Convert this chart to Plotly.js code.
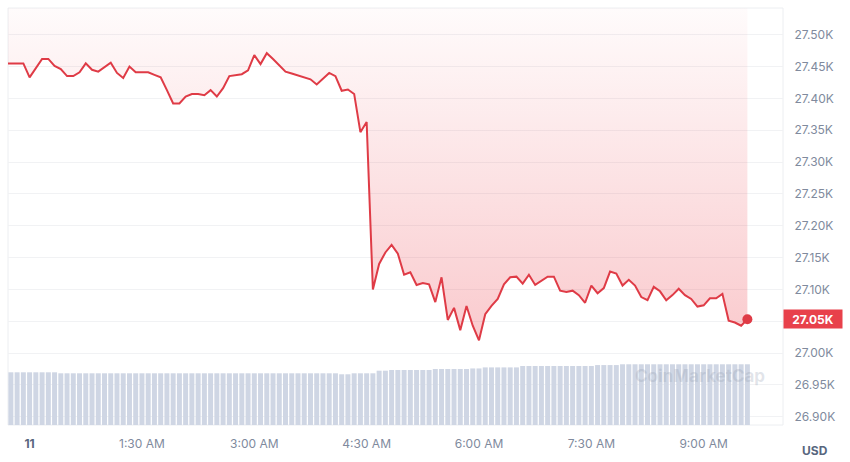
<!DOCTYPE html>
<html>
<head>
<meta charset="utf-8">
<script src="https://cdn.plot.ly/plotly-3.0.1.min.js"></script>
<style>
  html, body { margin: 0; padding: 0; background: #ffffff; }
  #chart { width: 850px; height: 462px; }
</style>
</head>
<body>
<div id="chart"></div>
<script>
// ---- data (5-minute samples, first sample at 23:40 on the 10th) ----
const startTime = '2023-05-10T23:40:00Z';
const stepMinutes = 5;

const priceValues = [
  27455, 27455, 27455, 27455, 27433, 27447, 27462, 27462, 27451, 27446,
  27435, 27435, 27441, 27455, 27445, 27442, 27449, 27456, 27440, 27432,
  27450, 27441, 27441, 27441, 27437, 27433, 27413, 27392, 27392, 27403,
  27407, 27407, 27405, 27413, 27403, 27416, 27435, 27437, 27438, 27444,
  27468, 27454, 27471, 27462, 27452, 27442, 27439, 27436, 27433, 27430,
  27422, 27431, 27440, 27435, 27412, 27414, 27407, 27347, 27363, 27100,
  27140, 27158, 27170, 27156, 27123, 27127, 27107, 27110, 27108, 27080,
  27119, 27052, 27071, 27036, 27074, 27043, 27020, 27061, 27074, 27085,
  27108, 27119, 27120, 27109, 27123, 27107, 27114, 27120, 27120, 27098,
  27096, 27098, 27091, 27079, 27106, 27094, 27102, 27128, 27125, 27106,
  27115, 27106, 27088, 27083, 27104, 27097, 27083, 27091, 27101, 27091,
  27085, 27073, 27075, 27086, 27086, 27093, 27051, 27048, 27043, 27053
];

const volumeValues = [
  10.11, 10.11, 10.11, 10.11, 10.11, 10.11, 10.11, 10.11, 10.11, 9.92,
  9.92, 9.92, 9.92, 9.92, 9.92, 9.92, 9.92, 9.92, 9.92, 9.92,
  9.92, 9.92, 9.92, 9.92, 9.92, 9.92, 9.92, 9.92, 9.92, 9.92,
  9.92, 9.92, 9.92, 9.92, 9.92, 9.92, 9.92, 9.92, 9.92, 9.92,
  9.92, 9.92, 9.92, 9.92, 9.92, 9.92, 9.92, 9.92, 9.92, 9.92,
  9.92, 9.92, 9.92, 9.92, 9.73, 9.73, 9.92, 9.92, 9.92, 9.92,
  10.42, 10.42, 10.55, 10.55, 10.55, 10.55, 10.55, 10.55, 10.55, 10.75,
  10.75, 10.75, 10.75, 10.75, 10.75, 10.85, 10.85, 11.05, 11.05, 11.05,
  11.05, 11.05, 11.05, 11.32, 11.32, 11.32, 11.32, 11.32, 11.32, 11.32,
  11.32, 11.32, 11.32, 11.32, 11.32, 11.5, 11.5, 11.5, 11.5, 11.65,
  11.65, 11.65, 11.65, 11.65, 11.65, 11.65, 11.65, 11.65, 11.65, 11.65,
  11.65, 11.65, 11.65, 11.65, 11.65, 11.65, 11.65, 11.65, 11.65, 11.65
];

const xTickValues = ['2023-05-11 00:00', '2023-05-11 01:30', '2023-05-11 03:00',
                     '2023-05-11 04:30', '2023-05-11 06:00', '2023-05-11 07:30', '2023-05-11 09:00'];
const xTickLabels = ['<b style="color:#58667e">11</b>', '1:30 AM', '3:00 AM', '4:30 AM', '6:00 AM', '7:30 AM', '9:00 AM'];

const yTickValues = [26900, 26950, 27000, 27050, 27100, 27150, 27200, 27250, 27300, 27350, 27400, 27450, 27500];

const xRange = ['2023-05-10 23:42:42', '2023-05-11 10:03:32'];
const yRange = [26887, 27542];
const volumeRange = [0, 80];

// ---- derived ----
const t0 = Date.parse(startTime);
const times = priceValues.map((_, i) =>
  new Date(t0 + i * stepMinutes * 60000).toISOString().slice(0, 19).replace('T', ' '));
const topEdge = times.map(() => yRange[1]);
const lastIdx = priceValues.length - 1;
const lastPrice = priceValues[lastIdx];
const fmtK = v => (v / 1000).toFixed(2) + 'K';
// the tick that sits under the live-price tag is covered by it
const yTickLabels = yTickValues.map(v => fmtK(v) === fmtK(lastPrice) ? '' : fmtK(v));

const red = '#df3b46';
const tickColor = '#808a9d';

const traces = [
  {
    type: 'bar', x: times, y: volumeValues, yaxis: 'y2',
    width: stepMinutes * 60000 * 0.8,
    marker: { color: '#cfd6e4', line: { width: 0 } },
    hoverinfo: 'skip'
  },
  {
    type: 'scatter', mode: 'lines', x: times, y: topEdge,
    line: { width: 0, color: 'rgba(0,0,0,0)' }, hoverinfo: 'skip', showlegend: false
  },
  {
    type: 'scatter', mode: 'lines', x: times, y: priceValues,
    line: { color: red, width: 2 },
    fill: 'tonexty',
    fillcolor: 'rgba(234,57,67,0.15)',
    fillgradient: {
      type: 'vertical',
      start: 27000, stop: yRange[1],
      colorscale: [[0, 'rgba(236,60,72,0.28)'], [1, 'rgba(236,60,72,0.02)']]
    },
    showlegend: false
  },
  {
    type: 'scatter', mode: 'markers', x: [times[lastIdx]], y: [lastPrice],
    marker: { color: red, size: 10 }, showlegend: false, cliponaxis: false
  }
];

const layout = {
  width: 850, height: 462,
  margin: { l: 8, r: 67, t: 8, b: 37 },
  paper_bgcolor: '#ffffff', plot_bgcolor: '#ffffff',
  showlegend: false,
  font: { family: 'Inter, "Noto Sans", sans-serif', size: 12, color: tickColor },
  xaxis: {
    type: 'date', range: xRange,
    showgrid: false, zeroline: false, showline: false,
    tickmode: 'array', tickvals: xTickValues, ticktext: xTickLabels,
    ticks: 'outside', ticklen: 8, tickcolor: 'rgba(0,0,0,0)',
    tickfont: { size: 12, color: tickColor }
  },
  yaxis: {
    side: 'right', range: yRange,
    tickmode: 'array', tickvals: yTickValues, ticktext: yTickLabels,
    showgrid: true, gridcolor: '#f1f2f4', gridwidth: 1,
    zeroline: false, showline: false,
    ticks: 'outside', ticklen: 8, tickcolor: 'rgba(0,0,0,0)',
    tickfont: { size: 12, color: tickColor }
  },
  yaxis2: {
    overlaying: 'y', range: volumeRange, visible: false, fixedrange: true
  },
  shapes: [
    { type: 'rect', xref: 'paper', yref: 'paper', x0: 0, x1: 1, y0: 0, y1: 1,
      line: { color: '#eceef1', width: 1 }, layer: 'below' }
  ],
  annotations: [
    {
      xref: 'paper', yref: 'y', x: 1, y: lastPrice, xanchor: 'left', yanchor: 'middle',
      text: '<b>' + fmtK(lastPrice) + '</b>', showarrow: false,
      bgcolor: '#e8414b', font: { color: '#ffffff', size: 12 },
      width: 54, height: 14, borderpad: 2, align: 'center'
    },
    {
      xref: 'paper', yref: 'paper', x: 1.041, y: -0.06, xanchor: 'center', yanchor: 'middle',
      text: '<b>USD</b>', showarrow: false, font: { color: '#58667e', size: 12 }
    },
    {
      xref: 'paper', yref: 'paper', x: 0.806, y: 0.118, xanchor: 'left', yanchor: 'middle',
      text: '<b>CoinMarketCap</b>', showarrow: false,
      font: { color: 'rgba(140,150,170,0.25)', size: 17 }
    }
  ]
};

Plotly.newPlot('chart', traces, layout, { displayModeBar: false, staticPlot: true });
</script>
</body>
</html>
